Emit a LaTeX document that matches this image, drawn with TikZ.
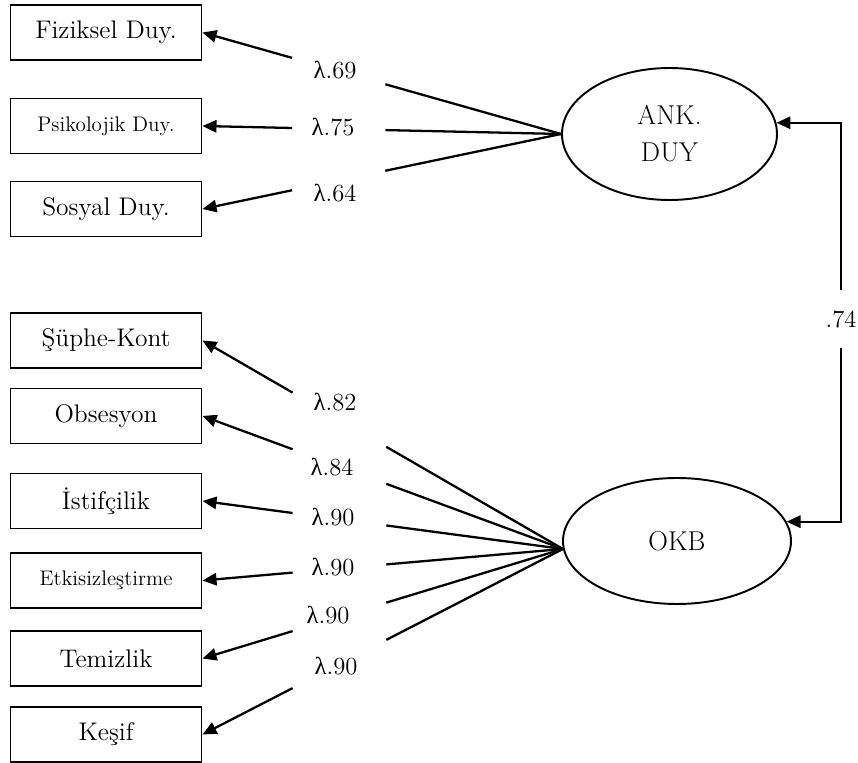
\documentclass[tikz,border=0pt]{standalone}
\usepackage{fontspec}
\newfontfamily\grk{Liberation Serif}
\usetikzlibrary{positioning, shapes.geometric, arrows.meta, calc}

\begin{document}
\begin{tikzpicture}[
  >={Triangle[length=8pt,width=7pt]},
  every node/.style={font=\fontsize{14.5}{17}\selectfont},
  ind/.style={draw, line width=1.1pt, minimum width=3.82cm, minimum height=1.1cm, inner sep=0pt},
  indsmall/.style={ind, font=\fontsize{12}{14}\selectfont},
  lat/.style={draw, ellipse, line width=1.1pt, inner sep=0pt, align=center, font=\fontsize{15.5}{21}\selectfont},
  load/.style={line width=1.3pt},
  lam/.style={inner sep=0pt, font=\fontsize{14}{17}\selectfont}
]
\useasboundingbox (0,0) rectangle (17.16,15.26);

% Latent factors
\node[lat, minimum width=4.3cm, minimum height=2.64cm] (ank) at (13.39,12.58) {ANK.\\DUY};
\node[lat, minimum width=4.56cm, minimum height=2.52cm] (okb) at (13.54,4.44) {OKB};

% Indicators of ANK. DUY
\node[ind] (fiz) at (2.12,14.61) {Fiziksel Duy.};
\node[indsmall] (psi) at (2.12,12.74) {Psikolojik Duy.};
\node[ind] (sos) at (2.12,11.08) {Sosyal Duy.};

% Indicators of OKB
\node[ind] (sup) at (2.12,8.45) {Şüphe-Kont};
\node[ind] (obs) at (2.12,6.94) {Obsesyon};
\node[ind] (ist) at (2.12,5.24) {İstifçilik};
\node[indsmall] (etk) at (2.12,3.65) {Etkisizleştirme};
\node[ind] (tem) at (2.12,2.09) {Temizlik};
\node[ind] (kes) at (2.12,0.57) {Keşif};

% Loading labels
\node[lam] (l69) at (6.70,13.86) {{\grk λ}.69};
\node[lam] (l75) at (6.66,12.72) {{\grk λ}.75};
\node[lam] (l64) at (6.70,11.40) {{\grk λ}.64};
\node[lam] (l82) at (6.70,7.22) {{\grk λ}.82};
\node[lam] (l84) at (6.64,5.92) {{\grk λ}.84};
\node[lam] (l90a) at (6.66,4.92) {{\grk λ}.90};
\node[lam] (l90b) at (6.66,3.92) {{\grk λ}.90};
\node[lam] (l90c) at (6.56,2.96) {{\grk λ}.90};
\node[lam] (l90d) at (6.72,1.94) {{\grk λ}.90};

% Loadings, broken where the labels sit
\draw[load, ->] (ank.west) -- ($(ank.west)!.49!(fiz.east)$) ($(ank.west)!.75!(fiz.east)$) -- (fiz.east);
\draw[load, ->] (ank.west) -- ($(ank.west)!.49!(psi.east)$) ($(ank.west)!.75!(psi.east)$) -- (psi.east);
\draw[load, ->] (ank.west) -- ($(ank.west)!.49!(sos.east)$) ($(ank.west)!.75!(sos.east)$) -- (sos.east);

\draw[load, ->] (okb.184) -- ($(okb.184)!.49!(sup.east)$) ($(okb.184)!.75!(sup.east)$) -- (sup.east);
\draw[load, ->] (okb.184) -- ($(okb.184)!.49!(obs.east)$) ($(okb.184)!.75!(obs.east)$) -- (obs.east);
\draw[load, ->] (okb.184) -- ($(okb.184)!.49!(ist.east)$) ($(okb.184)!.75!(ist.east)$) -- (ist.east);
\draw[load, ->] (okb.184) -- ($(okb.184)!.49!(etk.east)$) ($(okb.184)!.75!(etk.east)$) -- (etk.east);
\draw[load, ->] (okb.184) -- ($(okb.184)!.49!(tem.east)$) ($(okb.184)!.75!(tem.east)$) -- (tem.east);
\draw[load, ->] (okb.184) -- ($(okb.184)!.49!(kes.east)$) ($(okb.184)!.75!(kes.east)$) -- (kes.east);

% Correlation between factors
\node[lam, minimum height=1.16cm] (r74) at (16.82,8.88) {.74};
\draw[load, ->] (r74.north) |- (ank.6);
\draw[load, ->] (r74.south) |- (okb.10);

\end{tikzpicture}
\end{document}
